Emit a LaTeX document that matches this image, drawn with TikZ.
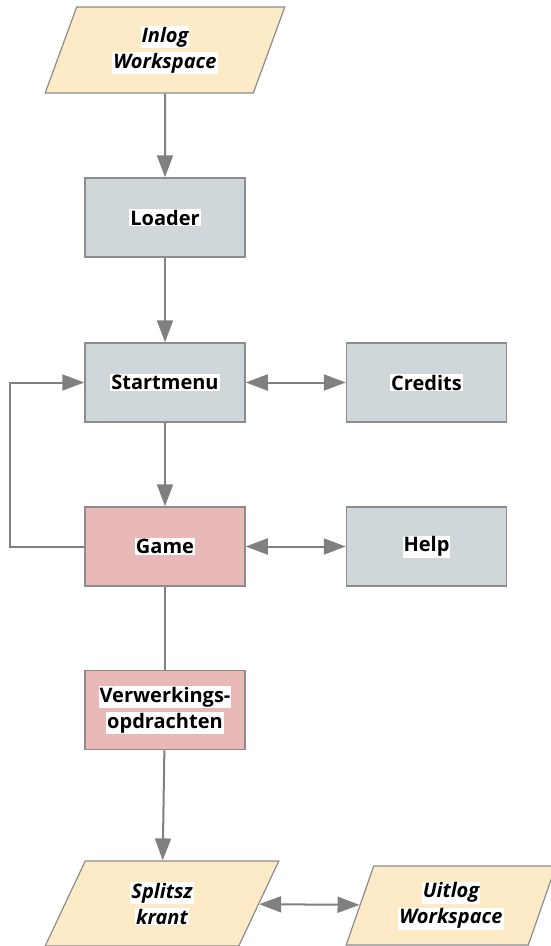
\documentclass[tikz,border=0pt]{standalone}
\usepackage{fontspec}
\setmainfont{Open Sans}
\usetikzlibrary{arrows.meta,shapes.geometric,positioning}

\definecolor{screengray}{RGB}{208,215,218}
\definecolor{screenpink}{RGB}{233,185,184}
\definecolor{iofill}{RGB}{253,235,200}
\definecolor{edgegray}{RGB}{140,140,140}
\definecolor{arrowgray}{RGB}{128,128,128}

\newcommand{\hl}[1]{{\setlength{\fboxsep}{1pt}\colorbox{white}{#1}}}

\begin{document}
\begin{tikzpicture}
    [
      x=1pt, y=-1pt,
      screen/.style={rectangle,draw=edgegray,line width=1.5pt,fill=screengray,
        minimum width=160pt,minimum height=79pt,align=center,
        font=\fontsize{20}{26}\selectfont\bfseries},
      task/.style={screen,fill=screenpink},
      io/.style={trapezium,trapezium left angle=70,trapezium right angle=110,
        trapezium stretches=true,draw=edgegray,line width=1.2pt,fill=iofill,
        align=center,font=\fontsize{20}{26}\selectfont\bfseries\itshape},
      post/.style={-{Triangle[length=22pt,width=16pt]},draw=arrowgray,line width=2pt},
      both/.style={{Triangle[length=22pt,width=16pt]}-{Triangle[length=22pt,width=16pt]},draw=arrowgray,line width=2pt},
      plain/.style={draw=arrowgray,line width=2pt},
    ]

    \useasboundingbox (0,0) rectangle (550,946);

    \node (inlog) [io,minimum width=240pt,minimum height=86pt] at (165,50) {\hl{Inlog}\\\hl{Workspace}};

    \node (loader) [screen] at (165,217.5) {\hl{Loader}};

    \node (startmenu) [screen] at (165,382.5) {\hl{Startmenu}};

    \node (credits) [screen] at (426.5,382.5) {\hl{Credits}};

    \node (game) [task] at (165,546.5) {\hl{Game}};

    \node (help) [screen] at (426.5,546.5) {\hl{Help}};

    \node (verwerking) [task] at (165,710) {\hl{Verwerkings-}\\\hl{opdrachten}};

    \node (splitsz) [io,minimum width=234pt,minimum height=85pt] at (162,903.5) {\hl{Splitsz}\\\hl{krant}};

    \node (uitlog) [io,minimum width=210pt,minimum height=79pt] at (451,905.5) {\hl{Uitlog}\\\hl{Workspace}};

    \path
    (inlog) edge [post] (loader)
    (loader) edge [post] (startmenu)
    (startmenu) edge [post] (game)

    (startmenu) edge [both] (credits)
    (game) edge [both] (help)

    (game) edge [plain] (verwerking)
    (verwerking) edge [post] (splitsz)

    (splitsz) edge [both] (uitlog)
    ;

    \draw [post] (game.west) -- ++(-74,0) |- (startmenu.west);

  \end{tikzpicture}
\end{document}
